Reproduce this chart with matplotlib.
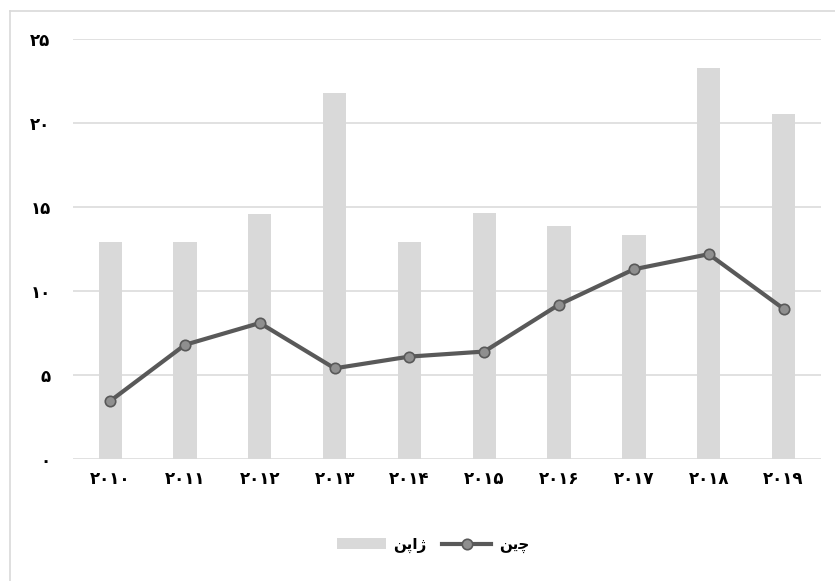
import matplotlib.pyplot as plt
from matplotlib.lines import Line2D
import numpy as np

plt.rcParams['font.family'] = ['DejaVu Sans', 'Noto Sans']

# years as persian digits
years = ['۲۰۱۰', '۲۰۱۱', '۲۰۱۲', '۲۰۱۳', '۲۰۱۴',
         '۲۰۱۵', '۲۰۱۶', '۲۰۱۷', '۲۰۱۸', '۲۰۱۹']
japan = [12.9, 12.9, 14.6, 21.8, 12.9, 14.65, 13.9, 13.35, 23.3, 20.55]
china = [3.45, 6.8, 8.1, 5.4, 6.1, 6.4, 9.2, 11.3, 12.2, 8.95]
yticks = [0, 5, 10, 15, 20, 25]
ytick_labels = ['۰', '۵', '۱۰', '۱۵', '۲۰', '۲۵']

# pre-shaped legend names (presentation forms, visual order)
japan_name = '\uFEE6\uFB58\uFE8D\uFB8A'   # ژاپن
china_name = '\uFEE6\uFBFE\uFB7C'         # چین

x = np.arange(len(years))

fig = plt.figure(figsize=(8.35, 5.81), dpi=100)
ax = fig.add_axes([0.0871, 0.21, 0.8961, 0.7224])

bars = ax.bar(x, japan, width=0.31, color='#d9d9d9', zorder=2, label=japan_name)
line, = ax.plot(x, china, color='#595959', lw=3, marker='o', markersize=7.5,
                markerfacecolor='#8f8f8f', markeredgecolor='#595959', markeredgewidth=1.2,
                zorder=3, label=china_name)

ax.set_xlim(-0.5, len(years) - 0.5)
ax.set_ylim(0, 25)
ax.set_yticks(yticks)
ax.set_yticklabels(ytick_labels, fontsize=12, fontweight='bold')
ax.set_xticks(x)
ax.set_xticklabels(years, fontsize=12, fontweight='bold')
ax.tick_params(axis='both', length=0)
ax.tick_params(axis='y', pad=16)
ax.tick_params(axis='x', pad=8)

ax.grid(axis='y', color='#d9d9d9', lw=1.1, zorder=0)
for s in ax.spines.values():
    s.set_visible(False)

fig.legend([bars, line], [japan_name, china_name], loc='center',
           bbox_to_anchor=(433 / 835, 1 - 545 / 581), ncol=2,
           frameon=False, handlelength=3.2, handletextpad=0.5, columnspacing=1.0,
           prop={'size': 11, 'weight': 'bold'})

# chart border (cropped)
fig.add_artist(Line2D([10 / 835, 10 / 835], [0, 1 - 11 / 581], color='#d9d9d9', lw=1.2))
fig.add_artist(Line2D([10 / 835, 1], [1 - 11 / 581, 1 - 11 / 581], color='#d9d9d9', lw=1.2))

fig.savefig('out.png', dpi=100)
